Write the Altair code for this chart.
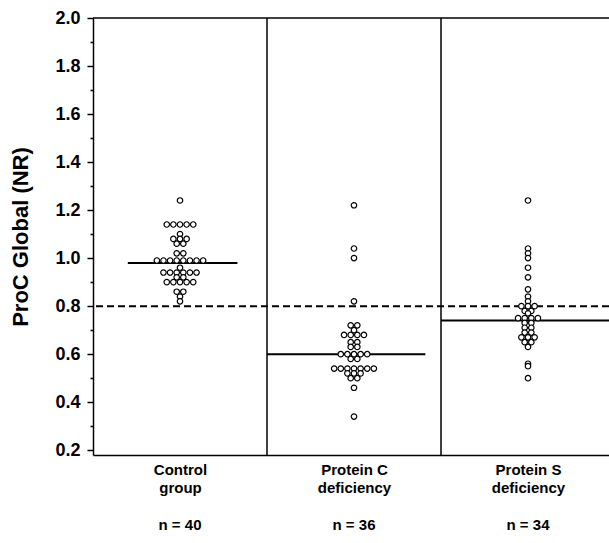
import json
import altair as alt
import pandas as pd

# ---- data ----
label_lines = [["Control", "group"], ["Protein C", "deficiency"], ["Protein S", "deficiency"]]
n_labels = ["n = 40", "n = 36", "n = 34"]

control_values = [1.24,
                  1.14, 1.14, 1.14, 1.14, 1.14,
                  1.10,
                  1.08, 1.08, 1.08,
                  1.06, 1.06,
                  1.02, 1.02,
                  0.99, 0.99, 0.99, 0.99, 0.99, 0.99, 0.99, 0.99,
                  0.96,
                  0.94, 0.94, 0.94, 0.94, 0.94, 0.94,
                  0.92, 0.92,
                  0.90, 0.90, 0.90, 0.90, 0.90,
                  0.86, 0.86,
                  0.84,
                  0.82]

protein_c_values = [1.22, 1.04, 1.00, 0.82,
                    0.72, 0.72,
                    0.70,
                    0.68, 0.68, 0.68, 0.68,
                    0.65, 0.65,
                    0.63, 0.63,
                    0.60, 0.60, 0.60, 0.60, 0.60,
                    0.58, 0.58,
                    0.54, 0.54, 0.54, 0.54, 0.54, 0.54, 0.54,
                    0.52, 0.52, 0.52,
                    0.50, 0.50,
                    0.46,
                    0.34]

protein_s_values = [1.24, 1.04, 1.02, 1.00, 0.96, 0.92, 0.87, 0.84,
                    0.82,
                    0.80, 0.80, 0.80,
                    0.78, 0.78,
                    0.77,
                    0.75, 0.75, 0.75, 0.75,
                    0.73, 0.73,
                    0.71, 0.71,
                    0.69, 0.69,
                    0.67, 0.67, 0.67,
                    0.65, 0.65,
                    0.63,
                    0.56, 0.55, 0.50]

medians = [0.98, 0.60, 0.74]
median_spans = [[0.20, 0.83], [1.00, 1.91], [2.00, 3.00]]
cutoff = 0.8
separators = [1, 2]
top_value = 2.0
y_ticks = [0.2, 0.3, 0.4, 0.5, 0.6, 0.7, 0.8, 0.9, 1.0, 1.1, 1.2, 1.3, 1.4, 1.5, 1.6, 1.7, 1.8, 1.9, 2.0]

# ---- tables ----
all_groups = [control_values, protein_c_values, protein_s_values]
pts = pd.DataFrame([{"g": gi, "value": v} for gi, vals in enumerate(all_groups) for v in vals])
med = pd.DataFrame({"g": [0, 1, 2], "median": medians,
                    "x0": [s[0] for s in median_spans], "x1": [s[1] for s in median_spans]})
sep = pd.DataFrame({"x": separators})
cut = pd.DataFrame({"y": [cutoff]})
top = pd.DataFrame({"y": [top_value]})
ndf = pd.DataFrame({"g": [0, 1, 2], "n": n_labels})

FONT = "Liberation Sans"
W, H = 516, 437
XMAX = W / 174.0
xscale = alt.Scale(domain=[0, XMAX], nice=False, zero=False)
yscale = alt.Scale(domain=[0.18, 2.0], nice=False, zero=False)

label_expr = json.dumps(label_lines) + "[floor(datum.value)]"

x_axis = alt.Axis(values=[0.5, 1.5, 2.5], labelExpr=label_expr, title=None, ticks=False,
                  grid=False, domainColor="black", domainWidth=1.5,
                  labelFont=FONT, labelFontWeight="bold", labelFontSize=15,
                  labelColor="black", labelLineHeight=18.5, labelPadding=7,
                  labelBaseline="top", labelAlign="center")

y_axis = alt.Axis(values=y_ticks, title="ProC Global (NR)",
                  labelExpr="round(datum.value*10) % 2 == 0 ? format(datum.value, '.1f') : ''",
                  tickSize={"condition": {"test": "round(datum.value*10) % 2 == 0", "value": 6}, "value": 3},
                  tickColor="black", tickWidth=1.5, grid=False,
                  domainColor="black", domainWidth=1.5,
                  labelFont=FONT, labelFontWeight="bold", labelFontSize=18, labelColor="black",
                  labelPadding=7,
                  titleFont=FONT, titleFontWeight="bold", titleFontSize=22, titleColor="black",
                  titlePadding=22)

base_x = alt.X("x:Q", scale=xscale, axis=x_axis)

points = alt.Chart(pts).transform_window(
    rn="row_number()", groupby=["g", "value"]
).transform_joinaggregate(
    cnt="count()", groupby=["g", "value"]
).transform_calculate(
    x="datum.g + 0.5 + (datum.rn - (datum.cnt + 1) / 2) * 0.038"
).mark_point(shape="circle", filled=True, fill="white", stroke="black",
             strokeWidth=1.2, size=30, opacity=1).encode(
    x=base_x,
    y=alt.Y("value:Q", scale=yscale, axis=y_axis),
)

sep_rules = alt.Chart(sep).mark_rule(color="black", strokeWidth=1.5).encode(
    x=alt.X("x:Q", scale=xscale, axis=x_axis))

top_rule = alt.Chart(top).mark_rule(color="black", strokeWidth=1.5).encode(
    y=alt.Y("y:Q", scale=yscale, axis=y_axis))

cut_rule = alt.Chart(cut).mark_rule(color="black", strokeWidth=2, strokeDash=[7, 4]).encode(
    y=alt.Y("y:Q", scale=yscale, axis=y_axis))

med_rules = alt.Chart(med).mark_rule(color="black", strokeWidth=2, clip=True).encode(
    x=alt.X("x0:Q", scale=xscale, axis=x_axis),
    x2="x1:Q",
    y=alt.Y("median:Q", scale=yscale, axis=y_axis))

n_text = alt.Chart(ndf).transform_calculate(
    xc="datum.g + 0.5"
).mark_text(font=FONT, fontWeight="bold", fontSize=15, color="black",
            align="center", baseline="middle").encode(
    x=alt.X("xc:Q", scale=xscale, axis=x_axis),
    y=alt.value(H + 70),
    text="n:N")

chart = alt.layer(sep_rules, top_rule, cut_rule, med_rules, points, n_text).properties(
    width=W, height=H,
    autosize=alt.AutoSizeParams(type="none"),
    padding={"left": 93, "top": 18, "right": 0, "bottom": 88},
    background="white",
).configure_view(stroke=None)

chart.save("out.html", embed_options={"renderer": "svg", "actions": False})
